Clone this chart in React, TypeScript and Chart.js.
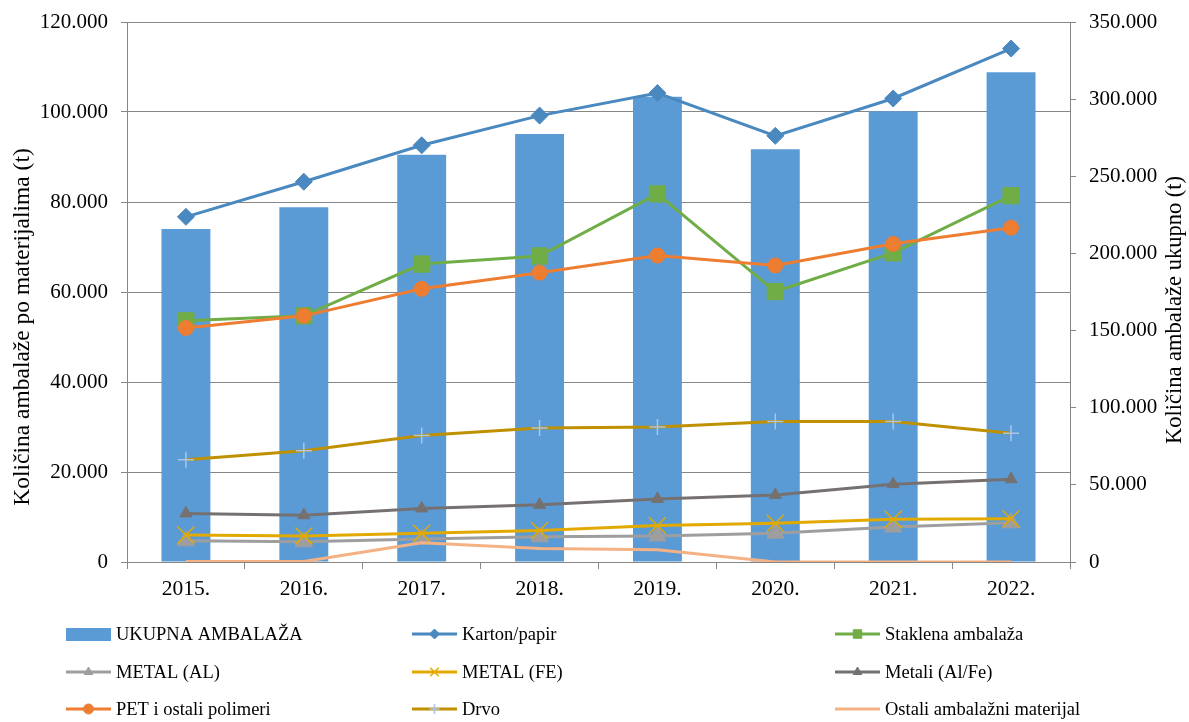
import React, { useEffect, useRef } from "react";
import { Chart, registerables } from "chart.js";
import { drawPoint } from "chart.js/helpers";

Chart.register(...registerables);

const years = ["2015.", "2016.", "2017.", "2018.", "2019.", "2020.", "2021.", "2022."];
const ukupna = [215800, 229900, 264000, 277400, 301600, 267500, 292100, 317400];
const karton = [76700, 84500, 92600, 99200, 104200, 94700, 103000, 114100];
const staklena = [53600, 54700, 66200, 68000, 81800, 60100, 68700, 81400];
const metalAl = [4700, 4500, 5100, 5600, 5800, 6400, 7800, 8700];
const metalFe = [6000, 5800, 6400, 7000, 8100, 8600, 9500, 9600];
const metali = [10800, 10400, 11900, 12700, 14000, 14900, 17300, 18400];
const pet = [52000, 54700, 60700, 64300, 68100, 65900, 70700, 74300];
const drvo = [22700, 24700, 28100, 29800, 30000, 31200, 31200, 28600];
const ostali = [100, 100, 4300, 3000, 2700, 0, 0, 0];

const leftTitle = "Količina ambalaže po materijalima (t)";
const rightTitle = "Količina ambalaže ukupno (t)";

const FONT = "'Liberation Serif', 'Times New Roman', serif";
const AXIS = "#868686";

function fmt(v: number): string {
  const s = Math.round(v).toString();
  if (s.length <= 3) return s;
  return s.replace(/\B(?=(\d{3})+(?!\d))/g, ".");
}

type LegendSpec = { kind: "bar" | "line"; color: string; style?: string; radius?: number; pcolor?: string; pw?: number };

const legendPlugin = {
  id: "customLegend",
  afterDraw(chart: any) {
    const ctx = chart.ctx;
    const cols = [66, 412, 835];
    const rows = [634, 672, 709];
    ctx.save();
    chart.data.datasets.forEach((ds: any, i: number) => {
      const spec: LegendSpec = ds._legend;
      const x = cols[i % 3];
      const y = rows[Math.floor(i / 3)];
      if (spec.kind === "bar") {
        ctx.fillStyle = spec.color;
        ctx.fillRect(x, y - 6, 45, 13);
      } else {
        ctx.strokeStyle = spec.color;
        ctx.lineWidth = 3;
        ctx.beginPath();
        ctx.moveTo(x, y);
        ctx.lineTo(x + 45, y);
        ctx.stroke();
        if (spec.style) {
          ctx.fillStyle = spec.pcolor || spec.color;
          ctx.strokeStyle = spec.pcolor || spec.color;
          ctx.lineWidth = spec.pw || 1;
          drawPoint(ctx, { pointStyle: spec.style, radius: spec.radius || 4, rotation: 0, borderWidth: spec.pw || 1 } as any, x + 22.5, y);
        }
      }
      ctx.fillStyle = "#000";
      ctx.font = `18.5px ${FONT}`;
      ctx.textAlign = "left";
      ctx.textBaseline = "middle";
      ctx.fillText(ds.label, x + 50, y + 1);
    });
    // axis titles
    ctx.fillStyle = "#000";
    ctx.textAlign = "center";
    ctx.textBaseline = "middle";
    ctx.save();
    ctx.font = `23.5px ${FONT}`;
    ctx.translate(23, 327);
    ctx.rotate(-Math.PI / 2);
    ctx.fillText(leftTitle, 0, 0);
    ctx.restore();
    ctx.save();
    ctx.font = `22.5px ${FONT}`;
    ctx.translate(1175, 310);
    ctx.rotate(-Math.PI / 2);
    ctx.fillText(rightTitle, 0, 0);
    ctx.restore();
    ctx.restore();
  },
};

function lineDs(label: string, data: number[], color: string, style: string | false, radius: number, order: number, pcolor?: string, pw?: number, legR?: number) {
  return {
    type: "line" as const,
    label,
    data,
    yAxisID: "y",
    borderColor: color,
    backgroundColor: pcolor || color,
    borderWidth: 3,
    pointStyle: style || "circle",
    pointRadius: style ? radius : 0,
    pointBackgroundColor: pcolor || color,
    pointBorderColor: pcolor || color,
    pointBorderWidth: pw || 1,
    tension: 0,
    order,
    _legend: { kind: "line", color, style: style || undefined, radius: legR || 4, pcolor, pw },
  };
}

export default function App() {
  const ref = useRef<HTMLCanvasElement | null>(null);
  useEffect(() => {
    if (!ref.current) return;
    const chart = new Chart(ref.current, {
      type: "bar",
      data: {
        labels: years,
        datasets: [
          {
            type: "bar",
            label: "UKUPNA AMBALAŽA",
            data: ukupna,
            yAxisID: "y1",
            backgroundColor: "#5B9BD5",
            borderWidth: 0,
            barPercentage: 0.415,
            categoryPercentage: 1,
            order: 20,
            _legend: { kind: "bar", color: "#5B9BD5" },
          } as any,
          lineDs("Karton/papir", karton, "#4A88C0", "rectRot", 8.5, 8, undefined, 1, 5),
          lineDs("Staklena ambalaža", staklena, "#70AD47", "rect", 11.5, 7, undefined, 1, 6),
          lineDs("METAL (AL)", metalAl, "#9E9E9E", "triangle", 10, 6, undefined, 1, 5),
          lineDs("METAL (FE)", metalFe, "#E2AA00", "crossRot", 12, 5, undefined, 1.5, 6),
          lineDs("Metali (Al/Fe)", metali, "#767171", "triangle", 7, 4, undefined, 1, 5),
          lineDs("PET i ostali polimeri", pet, "#ED7D31", "circle", 7.5, 3, undefined, 1, 5),
          lineDs("Drvo", drvo, "#BF9000", "cross", 8, 2, "#A9C6E6", 1.5, 5),
          lineDs("Ostali ambalažni materijal", ostali, "#F4B183", false, 0, 1),
        ] as any,
      },
      options: {
        responsive: false,
        animation: false,
        devicePixelRatio: 1,
        layout: { padding: { top: 22, bottom: 110, left: 0, right: 0 } },
        plugins: { legend: { display: false }, tooltip: { enabled: false } },
        scales: {
          x: {
            offset: true,
            grid: { offset: true, drawOnChartArea: false, drawTicks: true, tickLength: 7, color: AXIS },
            border: { display: true, color: AXIS },
            ticks: { color: "#000", font: { family: FONT, size: 21.5 }, padding: 7 },
            afterFit: (s: any) => { s.height = 50; s.paddingLeft = 0; s.paddingRight = 0; },
          },
          y: {
            position: "left",
            min: 0,
            max: 120000,
            ticks: { stepSize: 20000, color: "#000", font: { family: FONT, size: 21 }, padding: 13, callback: (v: any) => fmt(Number(v)) },
            grid: { color: AXIS, tickLength: 6, drawTicks: true },
            border: { display: true, color: AXIS },
            afterFit: (s: any) => { s.width = 127; s.paddingTop = 0; s.paddingBottom = 0; },
          },
          y1: {
            position: "right",
            min: 0,
            max: 350000,
            ticks: { stepSize: 50000, color: "#000", font: { family: FONT, size: 21 }, padding: 13, callback: (v: any) => fmt(Number(v)) },
            grid: { drawOnChartArea: false, color: AXIS, tickLength: 6, drawTicks: true },
            border: { display: true, color: AXIS },
            afterFit: (s: any) => { s.width = 119; s.paddingTop = 0; s.paddingBottom = 0; },
          },
        },
      } as any,
      plugins: [legendPlugin],
    });
    return () => chart.destroy();
  }, []);
  return (
    <div style={{ position: "absolute", left: 0, top: 0, width: 1189, height: 722, background: "#fff" }}>
      <canvas ref={ref} width={1189} height={722} style={{ width: 1189, height: 722, display: "block" }} />
    </div>
  );
}
